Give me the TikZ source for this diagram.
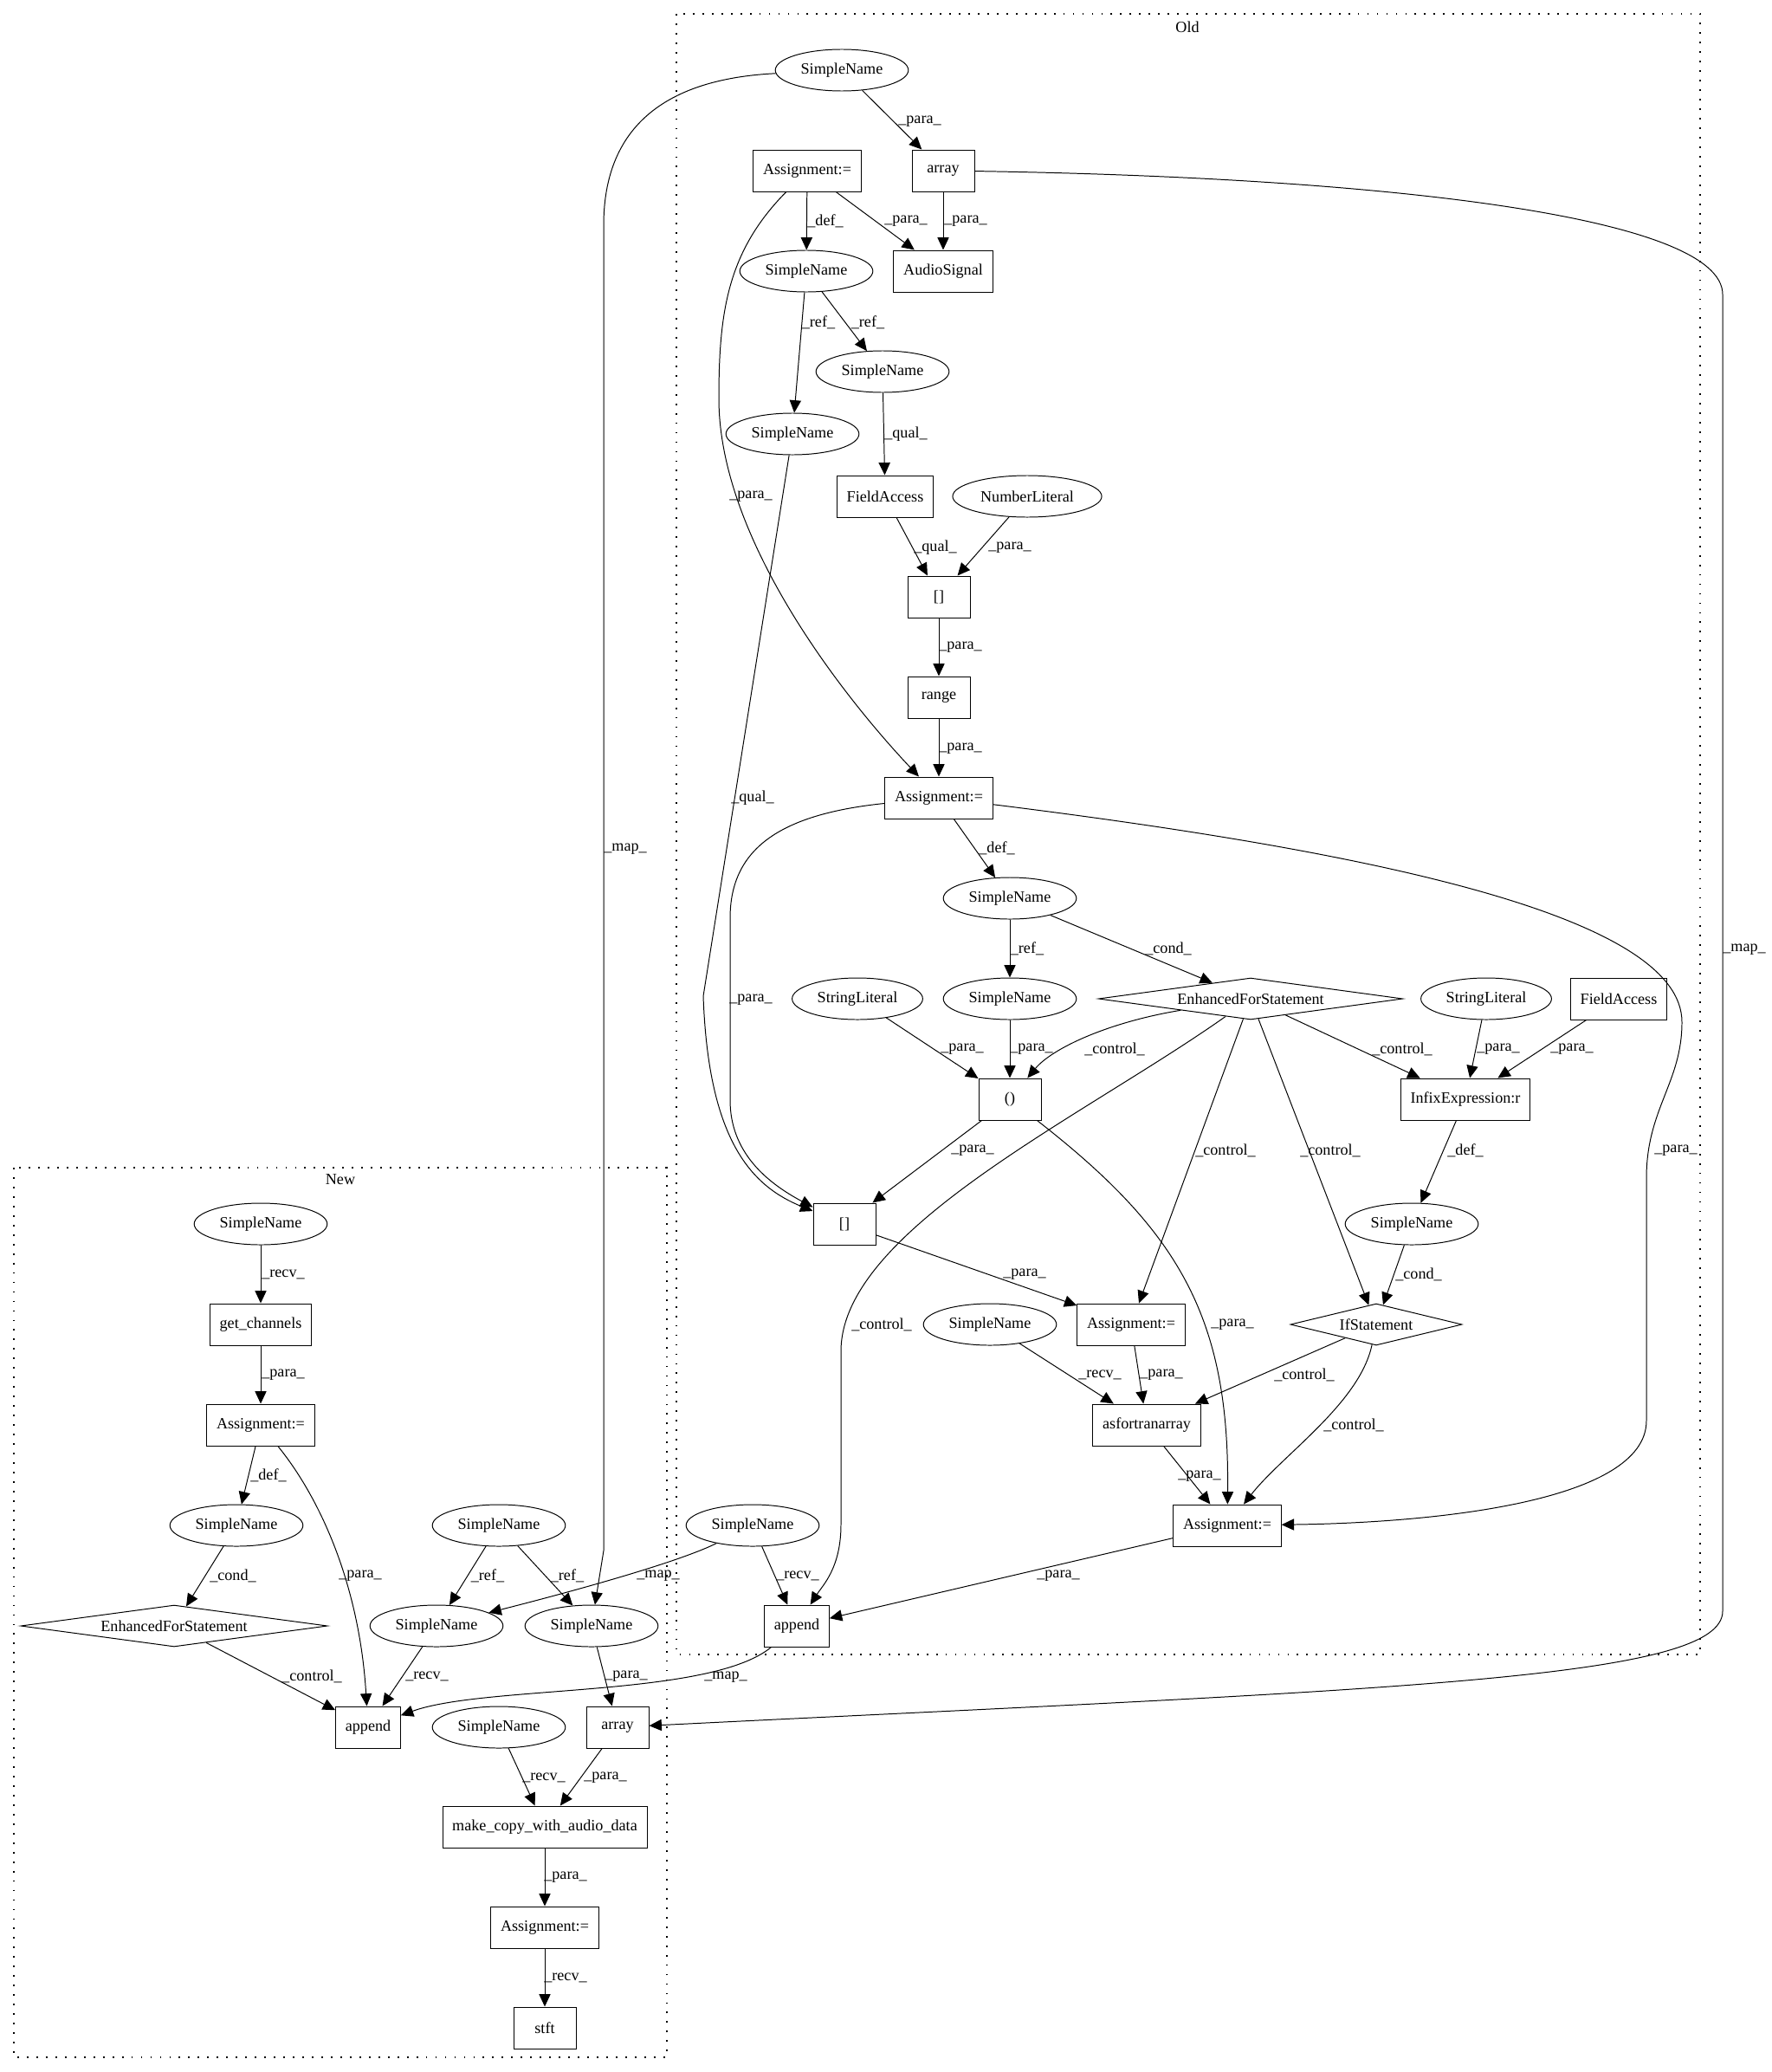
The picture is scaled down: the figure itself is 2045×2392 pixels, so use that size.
\documentclass[tikz,border=0pt]{standalone}
\usepackage{fontspec}
\setmainfont{Liberation Serif}
\usetikzlibrary{arrows.meta, shapes.geometric}
\tikzset{
  every picture/.style={font=\fontsize{12.9}{15}\selectfont, line width=0.7pt},
  astbox/.style={draw, rectangle, inner xsep=0.28cm, inner ysep=0pt, minimum width=1.8cm, minimum height=1.2cm},
  astname/.style={draw, ellipse, inner xsep=0.174cm, inner ysep=0pt, minimum height=1.2cm},
  astcond/.style={draw, diamond, aspect=6, inner sep=0pt, minimum height=1.2cm, minimum width=#1},
  flow/.style={-{Triangle[length=3.6mm, width=3.3mm]}},
  lbl/.style={inner sep=0pt},
  cluster/.style={line width=1pt, dash pattern=on 1.3pt off 6.5pt},
}

\begin{document}
\begin{tikzpicture}[x=0.025cm, y=-0.025cm]
  \useasboundingbox (0,0) rectangle (2045,2392);
  \draw[cluster] (781,16) rectangle (1963,1910);
  \node (oldTitle) at (1371,31) {Old};
  \draw[cluster] (16,1348) rectangle (770,2375);
  \node (newTitle) at (393,1362) {New};

  \foreach \n/\x/\y in {snTop/972/81, snDef/931/313, snRefB/1019/429, snRefA/915/501,
      snLoop/1166/1037, snRefC/1166/1153, snInfix/1630/1413, snRecv/1143/1529, snAppR/869/1761,
      snN1/301/1413, snN2/273/1761, snN3/576/1761, snN4/504/1877, snN5/683/1877, snN6/576/1994}
    \node[astname] (\n) at (\x,\y) {SimpleName};
  \node[astname] (numLit) at (1186,573) {NumberLiteral};
  \node[astname] (strLitA) at (990,1153) {StringLiteral};
  \node[astname] (strLitB) at (1716,1153) {StringLiteral};

  \foreach \n/\x/\y/\t in {assignA/932/197/{Assignment:=}, arrayOld/1089/197/array,
      audioSig/1089/313/AudioSignal, fieldA/1022/573/FieldAccess, brackA/1084/689/{[]},
      rangeB/1084/805/range, assignB/1084/921/{Assignment:=}, fieldB/1869/1153/FieldAccess,
      paren/1166/1269/{()}, infix/1692/1269/{InfixExpression:r}, brackB/975/1413/{[]},
      assignC/1306/1529/{Assignment:=}, asFort/1324/1645/asfortranarray,
      assignD/1417/1761/{Assignment:=}, appendOld/920/1877/append,
      getCh/301/1529/{get\_channels}, assignN1/301/1645/{Assignment:=},
      appendNew/425/1994/append, arrayNew/713/1994/array,
      makeCopy/629/2109/{make\_copy\_with\_audio\_data}, assignN2/629/2225/{Assignment:=},
      stft/629/2341/stft}
    \node[astbox] (\n) at (\x,\y) {\t};

  \node[astcond=8.78cm] (efsOld) at (1444,1153) {EnhancedForStatement};
  \node[astcond=4.95cm] (ifStmt) at (1589,1529) {IfStatement};
  \node[astcond=8.85cm] (efsNew) at (201,1877) {EnhancedForStatement};

  \foreach \a/\b/\x/\y/\t in {snTop/arrayOld/1062/140/para, assignA/snDef/953/255/def,
      assignA/audioSig/1046/255/para, arrayOld/audioSig/1115/255/para,
      snDef/snRefA/945/372/ref, snDef/snRefB/1002/372/ref, snRefB/fieldA/1046/501/qual,
      fieldA/brackA/1080/632/qual, numLit/brackA/1166/632/para, brackA/rangeB/1109/747/para,
      rangeB/assignB/1109/864/para, assignB/snLoop/1151/979/def, snLoop/snRefC/1186/1095/ref,
      snLoop/efsOld/1349/1095/cond, strLitA/paren/1111/1211/para, snRefC/paren/1191/1211/para,
      efsOld/infix/1619/1211/control, strLitB/infix/1730/1211/para, fieldB/infix/1815/1211/para,
      efsOld/assignC/1415/1328/control, efsOld/ifStmt/1536/1328/control,
      paren/brackB/1123/1328/para, infix/snInfix/1692/1328/def, snInfix/ifStmt/1638/1471/cond,
      brackB/assignC/1183/1471/para, snRecv/asFort/1270/1587/recv, assignC/asFort/1341/1587/para,
      ifStmt/asFort/1506/1587/control, asFort/assignD/1385/1704/para,
      assignD/appendOld/1222/1819/para, snAppR/appendOld/921/1819/recv,
      snN1/getCh/327/1471/recv, getCh/assignN1/327/1587/para, assignN1/snN2/310/1703/def,
      snN2/efsNew/269/1819/cond, efsNew/appendNew/360/1935/control, snN3/snN4/563/1819/ref,
      snN3/snN5/655/1819/ref, snN4/appendNew/493/1935/recv, snN5/arrayNew/723/1935/para,
      snN6/makeCopy/628/2052/recv, arrayNew/makeCopy/699/2052/para,
      makeCopy/assignN2/653/2167/para, assignN2/stft/653/2283/recv}
    \draw[flow] (\a) -- (\b) node[lbl] at (\x,\y) {\_\t\_};

  \draw[flow] (snTop) .. controls (790,90) and (697,130) .. (697,260) -- (697,1790) -- (snN5)
    node[lbl] at (722,980) {\_map\_};
  \draw[flow] (arrayOld) .. controls (1600,205) and (1989,250) .. (1989,340) -- (1989,1860)
    .. controls (1989,1940) and (1600,1950) .. (arrayNew) node[lbl] at (2014,1096) {\_map\_};
  \draw[flow] (assignA) .. controls (840,290) and (830,360) .. (830,460)
    .. controls (830,620) and (970,800) .. (assignB) node[lbl] at (867,573) {\_para\_};
  \draw[flow] (snRefA) -- (812,1150) .. controls (818,1320) and (870,1370) .. (brackB)
    node[lbl] at (869,921) {\_qual\_};
  \draw[flow] (assignB) .. controls (900,940) and (843,980) .. (843,1060) -- (843,1270)
    .. controls (843,1330) and (885,1365) .. (brackB) node[lbl] at (867,1154) {\_para\_};
  \draw[flow] (assignB) .. controls (1600,985) and (1942,1060) .. (1942,1180)
    .. controls (1942,1250) and (1901,1280) .. (1901,1360) -- (1901,1640)
    .. controls (1901,1735) and (1650,1758) .. (assignD) node[lbl] at (1935,1328) {\_para\_};
  \draw[flow] (efsOld) .. controls (1280,1180) and (1215,1210) .. (paren)
    node[lbl] at (1287,1211) {\_control\_};
  \draw[flow] (efsOld) .. controls (1250,1290) and (971,1420) .. (971,1560) -- (971,1760)
    .. controls (971,1810) and (950,1830) .. (appendOld) node[lbl] at (1018,1529) {\_control\_};
  \draw[flow] (paren) .. controls (1360,1420) and (1420,1520) .. (assignD)
    node[lbl] at (1423,1529) {\_para\_};
  \draw[flow] (ifStmt) .. controls (1570,1620) and (1480,1680) .. (assignD)
    node[lbl] at (1563,1645) {\_control\_};
  \draw[flow] (snAppR) .. controls (780,1805) and (650,1840) .. (snN4)
    node[lbl] at (760,1819) {\_map\_};
  \draw[flow] (appendOld) .. controls (820,1960) and (560,1945) .. (appendNew)
    node[lbl] at (838,1936) {\_map\_};
  \draw[flow] (assignN1) .. controls (370,1730) and (415,1830) .. (appendNew)
    node[lbl] at (416,1819) {\_para\_};
\end{tikzpicture}
\end{document}
